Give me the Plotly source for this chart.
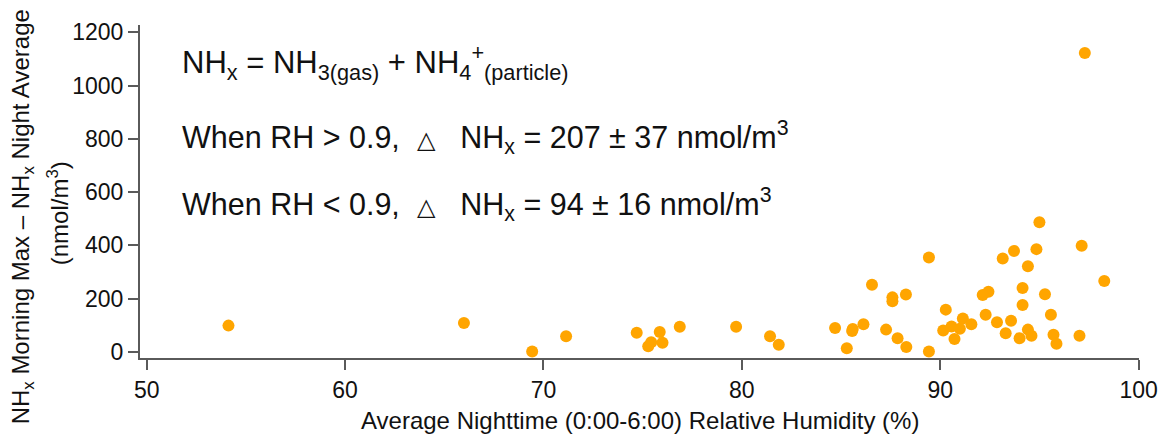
import plotly.graph_objects as go

# Average nighttime RH (%) and NHx morning max - night average (nmol/m3)
rh = [54.12, 65.99, 69.43, 71.14, 74.70, 75.86, 76.87, 75.43, 75.28, 76.00,
      79.71, 81.42, 81.86,
      97.29, 95.00, 97.13, 94.85, 93.72, 93.15, 89.43, 94.42, 98.27, 86.56,
      94.15, 92.43, 92.14, 95.28, 88.27, 87.59, 87.59, 94.15, 90.28, 92.29,
      95.58, 91.14, 93.57, 92.86, 86.13, 91.57, 84.70, 85.59, 85.56, 87.27,
      90.57, 90.99, 90.15, 94.42, 94.60, 93.30, 94.00, 95.71, 97.02, 87.85,
      90.72, 95.86, 85.29, 88.29, 89.43]
dnhx = [99, 109, 2, 59, 72, 75, 95, 37, 22, 35,
        95, 59, 27,
        1122, 487, 399, 386, 379, 351, 355, 322, 266, 252,
        240, 226, 214, 217, 216, 205, 190, 176, 159, 140,
        140, 126, 117, 112, 104, 104, 90, 86, 79, 84,
        96, 87, 81, 84, 61, 70, 52, 65, 61, 52,
        49, 31, 14, 19, 2]

x_ticks = [50, 60, 70, 80, 90, 100]
y_ticks = [0, 200, 400, 600, 800, 1000, 1200]

FONT = "Liberation Sans, Arial, sans-serif"
AX = "#5a5a5a"
TXT = "#111111"

fig = go.Figure()
fig.add_trace(go.Scatter(
    x=rh, y=dnhx, mode="markers",
    marker=dict(color="#FFA500", size=12, line=dict(width=0)),
    showlegend=False, hoverinfo="x+y"))

W, H = 1170, 439
L, R, T, B = 140, 28, 25, 81
pw, ph = W - L - R, H - T - B

def px(xp):
    return (xp - L) / pw

def py(yp):
    return (H - B - yp) / ph

fig.update_layout(
    width=W, height=H,
    margin=dict(l=L, r=R, t=T, b=B),
    paper_bgcolor="white", plot_bgcolor="white",
    font=dict(family=FONT, color=TXT),
    xaxis=dict(range=[49.66, 100.02], tickvals=x_ticks, ticks="outside",
               ticklen=10, tickwidth=2, tickcolor=AX, showline=True,
               linecolor=AX, linewidth=2, showgrid=False, zeroline=False,
               tickfont=dict(size=23, family=FONT, color=TXT)),
    yaxis=dict(range=[-22.5, 1227], tickvals=y_ticks, ticks="outside",
               ticklen=10, tickwidth=2, tickcolor=AX, showline=True,
               linecolor=AX, linewidth=2, showgrid=False, zeroline=False,
               tickfont=dict(size=23, family=FONT, color=TXT)),
)

pre = "\u00a0" * 2
post = "\u00a0" * 3
tri = '<span style="font-size:24px">\u25b3</span>'
ann = [
    dict(text="NH<sub>x</sub> = NH<sub>3(gas)</sub> + NH<sub>4</sub><sup>+</sup><sub>(particle)</sub>",
         x=px(180), y=py(62), size=31),
    dict(text="When RH > 0.9," + pre + tri + post + "NH<sub>x</sub> = 207 \u00b1 37 nmol/m<sup>3</sup>",
         x=px(180), y=py(137), size=30.5),
    dict(text="When RH < 0.9," + pre + tri + post + "NH<sub>x</sub> = 94 \u00b1 16 nmol/m<sup>3</sup>",
         x=px(180), y=py(204), size=30.5),
]
for a in ann:
    s = a.pop("size")
    fig.add_annotation(xref="paper", yref="paper", xanchor="left", yanchor="middle",
                       showarrow=False, font=dict(size=s, family=FONT, color=TXT),
                       **a)

# axis titles
fig.add_annotation(xref="paper", yref="paper", x=0.5, y=py(420),
                   xanchor="center", yanchor="middle", showarrow=False,
                   text="Average Nighttime (0:00-6:00) Relative Humidity (%)",
                   font=dict(size=24, family=FONT, color=TXT))
fig.add_annotation(xref="paper", yref="paper", x=px(22), y=py(217),
                   xanchor="center", yanchor="middle", showarrow=False, textangle=-90,
                   text="NH<sub>x</sub> Morning Max \u2013 NH<sub>x</sub> Night Average",
                   font=dict(size=24, family=FONT, color=TXT))
fig.add_annotation(xref="paper", yref="paper", x=px(58), y=py(213),
                   xanchor="center", yanchor="middle", showarrow=False, textangle=-90,
                   text="(nmol/m<sup>3</sup>)",
                   font=dict(size=24, family=FONT, color=TXT))

fig.write_html("out.html")
